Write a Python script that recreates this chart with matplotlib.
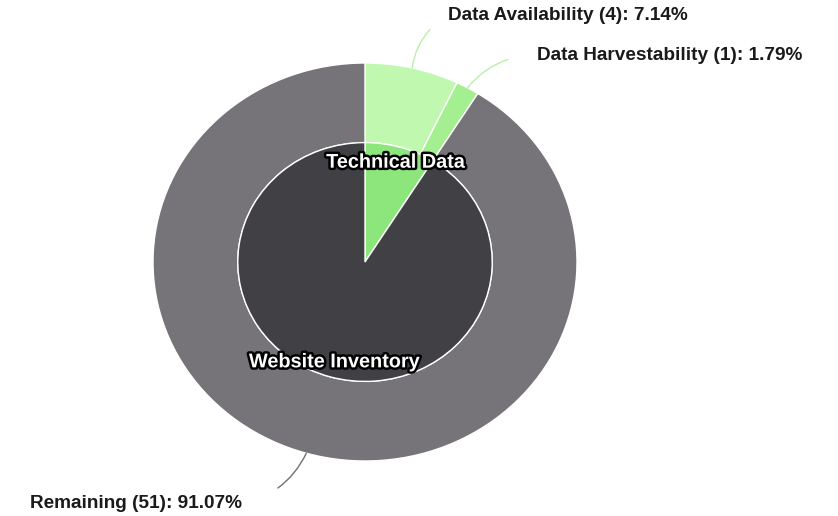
import numpy as np
import matplotlib.pyplot as plt
import matplotlib.patheffects as pe

# inner ring (groups)
inner_labels = ["Technical Data", "Website Inventory"]
inner_values = [5, 51]
inner_colors = ["#8ce67c", "#414045"]

# outer ring (items)
outer_labels = ["Data Availability", "Data Harvestability", "Remaining"]
outer_values = [4, 1, 51]
outer_colors = ["#c0f8b0", "#a4f090", "#767479"]
line_colors = ["#b8f0a8", "#b8f0a8", "#707070"]
# label text positions, figure pixels from top-left, and gap between line and text
text_pos = [(448, 16), (537, 56), (30, 503)]
line_gap = [14, 19, 26]

W, H = 838, 516
fig = plt.figure(figsize=(W / 100, H / 100), dpi=100)
cx, cy, rx, ry = 365, 262, 212, 199
ax = fig.add_axes([(cx - rx) / W, (H - cy - ry) / H, 2 * rx / W, 2 * ry / H])

r_in = 0.6
ax.pie(outer_values, radius=1, colors=outer_colors, startangle=90, counterclock=False,
       wedgeprops=dict(width=1 - r_in, edgecolor="white", linewidth=1))
ax.pie(inner_values, radius=r_in, colors=inner_colors, startangle=90, counterclock=False,
       wedgeprops=dict(edgecolor="white", linewidth=1))
ax.set_aspect("auto")
ax.set_xlim(-1, 1)
ax.set_ylim(-1, 1)

# inner labels
total = sum(inner_values)
start = 90
for lab, v in zip(inner_labels, inner_values):
    span = 360 * v / total
    mid = np.deg2rad(start - span / 2)
    start -= span
    rr = r_in * 0.87
    ax.text(rr * np.cos(mid), rr * np.sin(mid), lab, ha="center", va="center",
            color="white", fontsize=14.3, fontweight="bold", family="Liberation Sans",
            path_effects=[pe.withStroke(linewidth=3.5, foreground="black")])

# outer labels with leader lines
total = sum(outer_values)
start = 90
for lab, v, lc, (tx, ty), gap in zip(outer_labels, outer_values, line_colors, text_pos, line_gap):
    span = 360 * v / total
    mid = np.deg2rad(start - span / 2)
    start -= span
    txt = f"{lab} ({v}): {100 * v / total:.2f}%"
    ax.annotate(txt, xy=(np.cos(mid), np.sin(mid)), xycoords="data",
                xytext=(tx, H - ty), textcoords="figure pixels",
                ha="left", va="center", fontsize=13.7, fontweight="bold",
                family="Liberation Sans", color="#1a1a1a",
                arrowprops=dict(arrowstyle="-", color=lc, lw=1,
                                relpos=(0, 0.5) if ty < cy else (1, 0.5),
                                shrinkA=gap, shrinkB=0,
                                connectionstyle="arc3,rad=0.25"))

fig.savefig("out.png", dpi=100)
